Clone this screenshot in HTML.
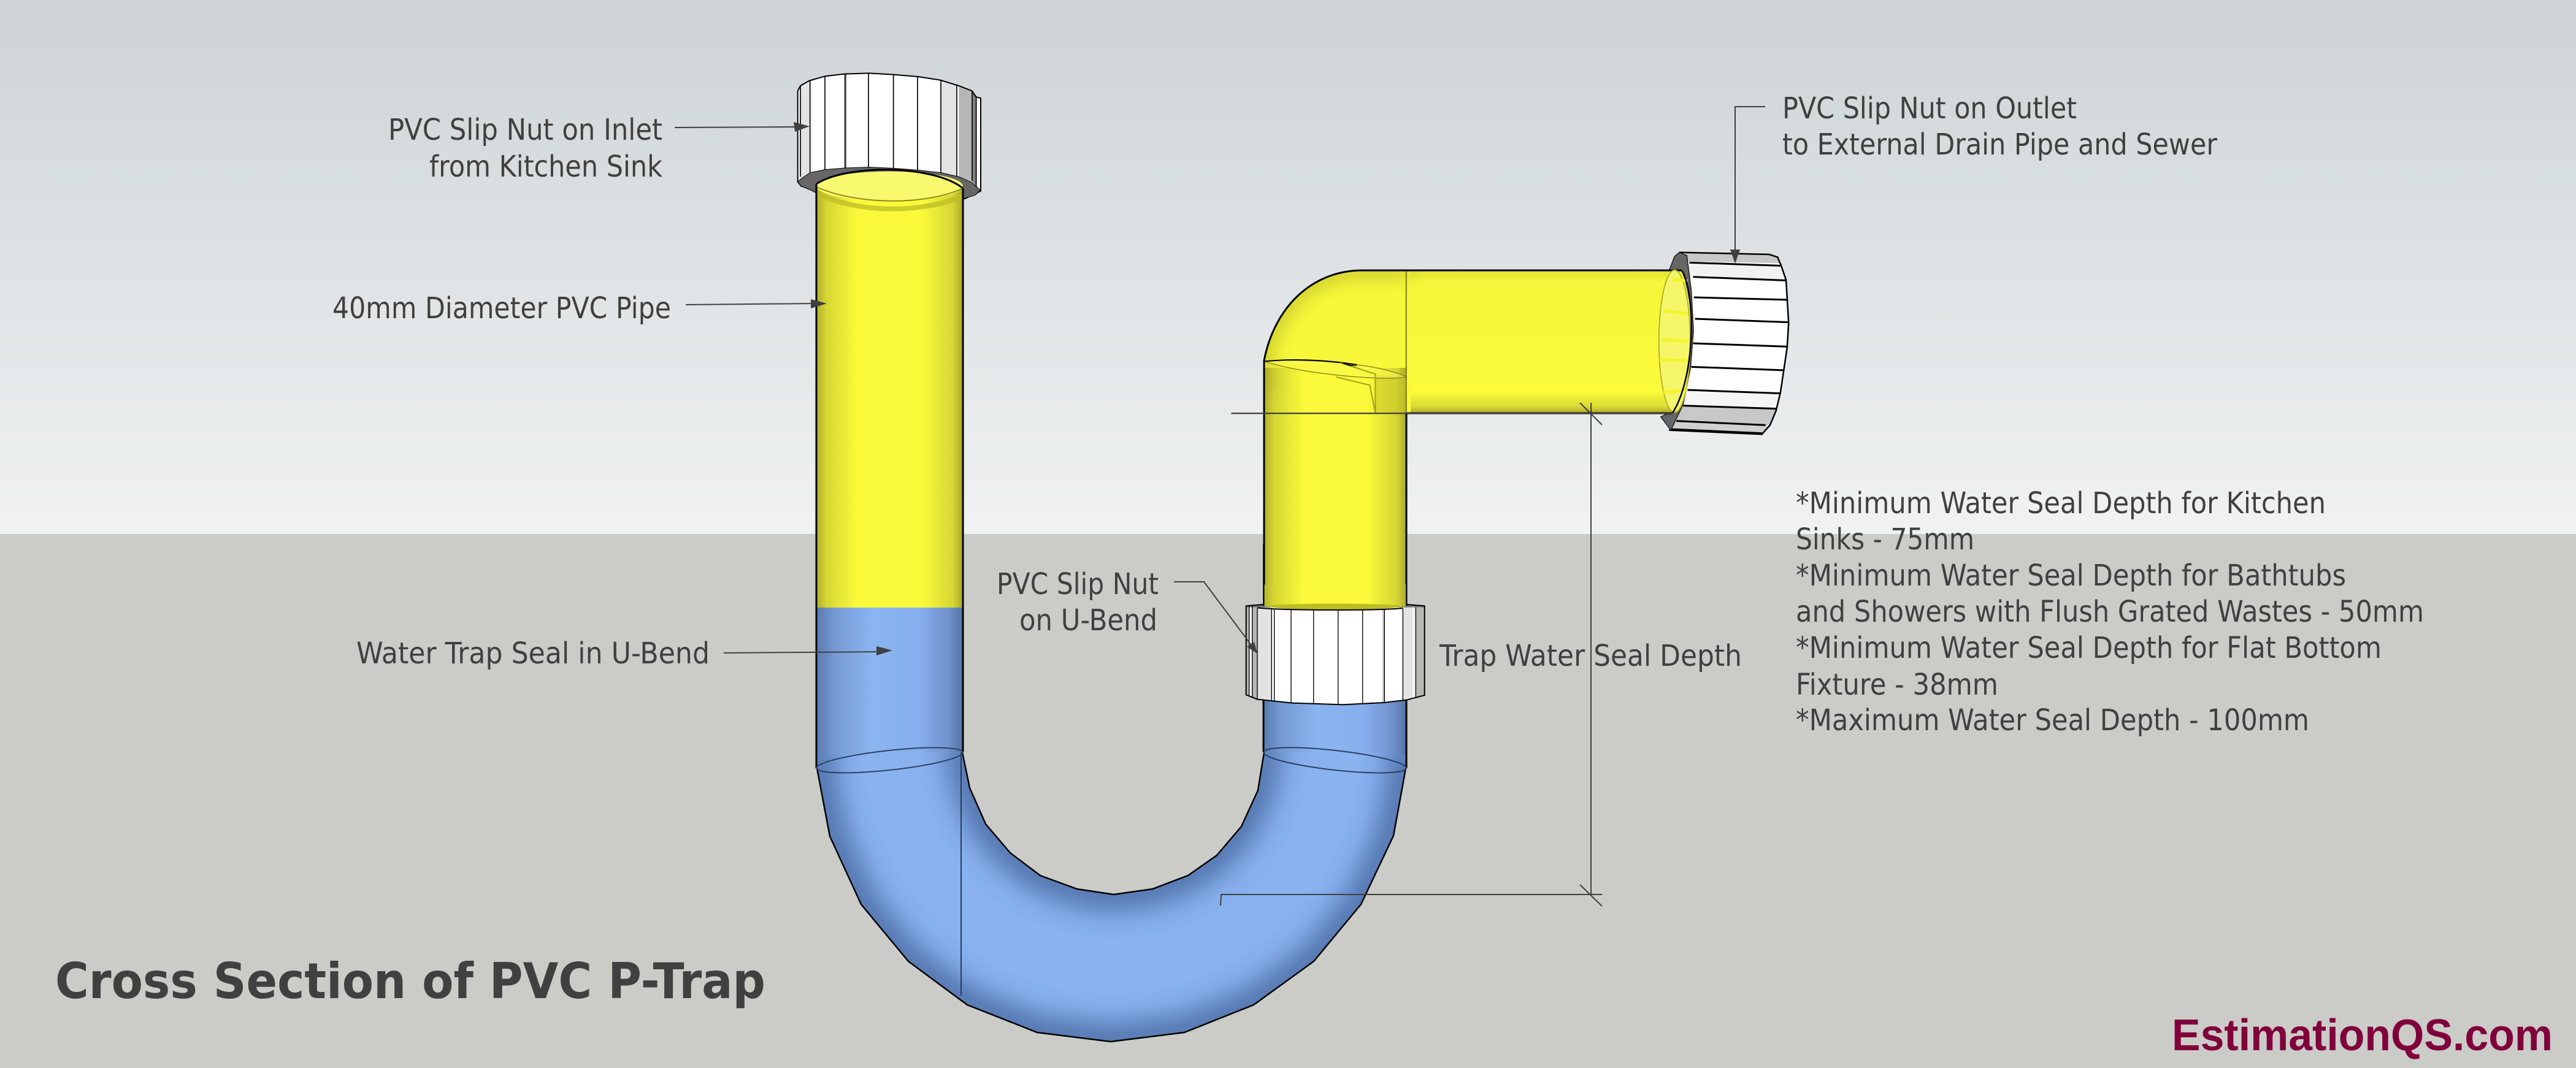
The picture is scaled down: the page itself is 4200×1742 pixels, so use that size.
<!DOCTYPE html>
<html><head><meta charset="utf-8"><style>
html,body{margin:0;padding:0;background:#cbccc7}
svg{display:block}
text{font-family:"DejaVu Sans","Liberation Sans",sans-serif;font-size:48px;fill:#404040}
</style></head><body>
<svg xmlns="http://www.w3.org/2000/svg" width="4200" height="1742" viewBox="0 0 4200 1742">
<defs>
<linearGradient id="sky" x1="0" y1="0" x2="0" y2="1"><stop offset="0" stop-color="#cdd3d6"/><stop offset="1" stop-color="#f0f2f3"/></linearGradient>
<linearGradient id="yel" x1="0" y1="0" x2="1" y2="0"><stop offset="0" stop-color="#b0b02c"/><stop offset=".07" stop-color="#d6d634"/><stop offset=".28" stop-color="#fafa3a"/><stop offset=".72" stop-color="#fafa3a"/><stop offset=".93" stop-color="#d6d634"/><stop offset="1" stop-color="#a8a82a"/></linearGradient>
<linearGradient id="blu" x1="0" y1="0" x2="1" y2="0"><stop offset="0" stop-color="#577aaf"/><stop offset=".12" stop-color="#7599d2"/><stop offset=".38" stop-color="#8ab5f0"/><stop offset=".7" stop-color="#87aeee"/><stop offset=".9" stop-color="#7292cc"/><stop offset="1" stop-color="#5474a6"/></linearGradient>
<linearGradient id="yh" x1="0" y1="0" x2="0" y2="1"><stop offset="0" stop-color="#e4e436"/><stop offset=".08" stop-color="#f6f63a"/><stop offset=".85" stop-color="#fbfb3a"/><stop offset=".95" stop-color="#dcdc34"/><stop offset="1" stop-color="#a8a82c"/></linearGradient>
<filter id="b" filterUnits="userSpaceOnUse" x="0" y="0" width="4200" height="1742"><feGaussianBlur stdDeviation="24"/></filter>
<filter id="c" filterUnits="userSpaceOnUse" x="0" y="0" width="4200" height="1742"><feGaussianBlur stdDeviation="14"/></filter>
<clipPath id="ub"><path d="M1332,1230L1332,1253L1353,1364L1404,1475L1481,1568L1577,1639L1691,1684L1811,1699L1931,1684L2044,1639L2142,1568L2219,1475L2272,1363L2292,1253L2292,1230L2061,1227L2051,1289L2024,1348L1984,1395L1937,1428L1879,1450L1816,1459L1756,1450L1696,1428L1647,1391L1607,1344L1581,1285L1569,1227Z"/></clipPath>
<clipPath id="n1"><path d="M302,205L315,180L358,155L435,133L530,122L650,118L770,125L890,135L1000,152L1090,180L1155,205L1175,235L1197,240L1197,695L1175,672L1155,645L1090,625L1002,605L888,592L770,583L650,578L533,582L435,590L362,605L315,625L302,650Z"/></clipPath>
<clipPath id="n3"><path d="M245,205L330,198L1030,198L1118,205L1118,642L1030,665L920,678L720,688L470,680L300,662L245,640Z"/></clipPath>
<clipPath id="n2"><path d="M1218,95L1460,105L1482,118L1492,160L1505,230L1512,440L1508,560L1490,780L1478,870L1462,940L1440,985L1190,965L1210,890L1240,700L1252,480L1245,250Z"/></clipPath>
<clipPath id="elb"><path d="M2061,1000V588C2078,500 2140,441 2221,441H2742C2766,520 2766,600 2727,674H2293V1000Z"/></clipPath>
</defs>

<rect width="4200" height="871" fill="url(#sky)"/>
<rect y="871" width="4200" height="871" fill="#cbccc7"/>

<!-- inlet nut -->
<g transform="translate(1200,80) scale(.33333)">
<g clip-path="url(#n1)">
<rect x="290" y="100" width="920" height="620" fill="#fff"/>
<rect x="315" y="100" width="47" height="620" fill="#e3e3e3"/>
<rect x="362" y="100" width="15" height="620" fill="#f4f4f4"/>
<rect x="1002" y="100" width="78" height="620" fill="#e3e3e3"/>
<rect x="1090" y="100" width="65" height="620" fill="#b6b6b4"/>
<rect x="1155" y="100" width="20" height="620" fill="#808080"/>
<rect x="533" y="100" width="8" height="620" fill="#999"/>
<g stroke="#000" stroke-width="5" fill="none">
<path d="M315,180V625M362,155V605M435,133V590M533,122V582M648,118V578M770,125V583M888,135V592M1002,152V605M1080,180V625M1155,205V645M1175,235V672"/>
</g>
</g>
<path d="M302,205L315,180L358,155L435,133L530,122L650,118L770,125L890,135L1000,152L1090,180L1155,205L1175,235L1197,240L1197,695L1120,732L400,700L318,670L302,650Z" fill="none" stroke="#000" stroke-width="6"/>
<path d="M302,650L318,670L365,690L395,705L1110,733L1170,715L1195,690L1150,650L1090,625L1002,605L888,592L770,583L650,578L533,582L435,590L362,605L325,630Z" fill="#666" stroke="#000" stroke-width="3"/>
</g>

<!-- outlet nut -->
<g transform="translate(2000,380) scale(.606,.33333)">
<g clip-path="url(#n2)">
<rect x="1160" y="80" width="380" height="920" fill="#fff"/>
<path d="M1200,80H1540V150L1200,138Z" fill="#c8c8c8"/>
<path d="M1200,150L1540,165V232L1200,210Z" fill="#f1f1f1"/>
<path d="M1200,770L1540,790V860L1200,845Z" fill="#f5f5f5"/>
<path d="M1200,845L1540,865V945L1200,925Z" fill="#c8c8c8"/>
<path d="M1200,925L1500,945V1000H1200Z" fill="#d0d0d0"/>
<path vector-effect="non-scaling-stroke" stroke="#000" stroke-width="3" fill="none" d="M1245,145L1490,160M1255,215L1505,232M1257,315L1510,327M1260,420L1512,437M1255,540L1510,556M1250,655L1503,672M1240,768L1490,785M1228,845L1478,860M1210,920L1450,940M1195,960L1440,980"/>
</g>
<path vector-effect="non-scaling-stroke" d="M1218,95L1460,105L1482,118L1492,160L1505,230L1512,440L1508,560L1490,780L1478,870L1462,940L1440,985L1190,965" fill="none" stroke="#000" stroke-width="2.5"/>
<path vector-effect="non-scaling-stroke" d="M1218,95L1238,110L1250,280L1256,480L1248,660L1228,840L1195,965L1168,900L1190,880L1225,700L1245,480L1230,260L1190,185L1205,115Z" fill="#666" stroke="#222" stroke-width="1.5"/>
</g>

<!-- right pipe yellow with elbow -->
<g clip-path="url(#elb)">
<rect x="2040" y="420" width="760" height="600" fill="#f8f83a"/>
<rect x="2300" y="441" width="470" height="233" fill="url(#yh)"/>
<rect x="2061" y="600" width="232" height="400" fill="url(#yel)"/>
<path d="M2061,640V588C2078,500 2140,441 2221,441H2300" fill="none" stroke="#a8a82a" stroke-width="20" opacity=".7" filter="url(#c)"/>
</g>
<path d="M2061,991V588C2078,500 2140,441 2221,441H2742M2293,991V674H2727" fill="none" stroke="#000" stroke-width="3"/>
<g transform="translate(2000,380) scale(.606,.33333)">
<path vector-effect="non-scaling-stroke" d="M400,690L483,705V882H400Z" fill="#c8c828" opacity=".55"/>
<ellipse cx="1205" cy="530" rx="42" ry="348" fill="#f6f66a" stroke="#b4b42c" stroke-width="2" vector-effect="non-scaling-stroke"/>
<path vector-effect="non-scaling-stroke" d="M1200,225L1240,235M1175,380L1240,395M1170,520L1240,530M1165,620L1240,625M1175,780L1235,770" stroke="#f4f428" stroke-width="5" fill="none"/>
<path vector-effect="non-scaling-stroke" d="M1225,185C1262,300 1262,700 1200,880" fill="none" stroke="#000" stroke-width="2.5"/>
<path vector-effect="non-scaling-stroke" d="M102,628C200,610 420,640 483,705C420,725 200,690 102,628Z" fill="#fafa50" fill-opacity=".5" stroke="#8c8c1e" stroke-width="1.5"/>
<path vector-effect="non-scaling-stroke" d="M102,628C200,610 300,630 350,645" fill="none" stroke="#000" stroke-width="2"/>
<path vector-effect="non-scaling-stroke" d="M305,635L400,690V880M295,705L385,745L400,880" fill="none" stroke="#a0a020" stroke-width="2"/>
<path vector-effect="non-scaling-stroke" d="M305,635L355,652L330,650Z" fill="#000"/>
<path vector-effect="non-scaling-stroke" d="M483,187V882" stroke="#7e7e18" stroke-width="2" fill="none"/>
<path vector-effect="non-scaling-stroke" d="M12,883H483" stroke="#555" stroke-width="2" fill="none"/>
</g>

<!-- left pipe -->
<rect x="1331" y="303" width="239" height="689" fill="url(#yel)"/>
<ellipse cx="1450.5" cy="303.5" rx="119.5" ry="24" fill="#f9f970"/>
<path d="M1331,310C1400,345 1500,345 1570,315V325C1500,352 1400,352 1331,320Z" fill="#bcbc26" opacity=".75"/>
<path d="M1331,300C1380,268 1520,268 1570,307" fill="none" stroke="#000" stroke-width="3"/>
<path d="M1331,305C1400,335 1510,335 1570,307" fill="none" stroke="#8c8c1e" stroke-width="2"/>
<path d="M1331,300V992M1570,307V992" stroke="#000" stroke-width="3" fill="none"/>

<!-- blue lower pipe and bend -->
<rect x="1331" y="991" width="239" height="262" fill="url(#blu)"/>
<rect x="2060" y="1100" width="233" height="153" fill="url(#blu)"/>
<g clip-path="url(#ub)">
<rect x="1320" y="1220" width="990" height="500" fill="#89b2ef"/>
<path d="M1332,1200V1253L1353,1364L1404,1475L1481,1568L1577,1639L1691,1684L1811,1699L1931,1684L2044,1639L2142,1568L2219,1475L2272,1363L2292,1253V1200M2061,1200V1227L2051,1289L2024,1348L1984,1395L1937,1428L1879,1450L1816,1459L1756,1450L1696,1428L1647,1391L1607,1344L1581,1285L1569,1227V1200" fill="none" stroke="#38568c" stroke-width="46" opacity=".85" filter="url(#b)"/>
</g>
<path d="M1332,1253L1353,1364L1404,1475L1481,1568L1577,1639L1691,1684L1811,1699L1931,1684L2044,1639L2142,1568L2219,1475L2272,1363L2292,1253M2061,1227L2051,1289L2024,1348L1984,1395L1937,1428L1879,1450L1816,1459L1756,1450L1696,1428L1647,1391L1607,1344L1581,1285L1569,1227" fill="none" stroke="#000" stroke-width="2.5"/>
<path d="M1331,991V1253M1570,991V1227M2060,1100V1227M2293,1100V1253" stroke="#000" stroke-width="3" fill="none"/>
<line x1="1567" y1="1227" x2="1567" y2="1624" stroke="#2a3a58" stroke-width="2"/>
<ellipse cx="1450.5" cy="1240" rx="120" ry="16" transform="rotate(-6.2 1450.5 1240)" fill="none" stroke="#2b4164" stroke-width="2"/>
<ellipse cx="2176.5" cy="1240" rx="117" ry="16" transform="rotate(6.4 2176.5 1240)" fill="none" stroke="#2b4164" stroke-width="2"/>

<!-- u-bend nut -->
<g transform="translate(1950,920) scale(.33333)">
<g clip-path="url(#n3)">
<rect x="240" y="190" width="890" height="510" fill="#fff"/>
<rect x="245" y="190" width="15" height="510" fill="#b6b6b4"/>
<rect x="275" y="190" width="25" height="510" fill="#b6b6b4"/>
<rect x="300" y="190" width="70" height="510" fill="#e3e3e3"/>
<rect x="912" y="190" width="10" height="510" fill="#c8c8c8"/>
<rect x="1012" y="190" width="48" height="510" fill="#e3e3e3"/>
<rect x="1060" y="190" width="15" height="510" fill="#f4f4f4"/>
<rect x="1075" y="190" width="43" height="510" fill="#b6b6b4"/>
<rect x="240" y="190" width="890" height="22" fill="#777"/>
<g stroke="#000" stroke-width="4" fill="none">
<path d="M260,205V650M275,205V655M300,215V662M370,220V668M383,222V672M465,225V680M575,225V684M695,225V688M815,225V682M922,222V678M1012,218V665M1075,212V658"/>
</g>
</g>
<path d="M245,205L330,198L1030,198L1118,205L1118,642L1030,665L920,678L720,688L470,680L300,662L245,640Z" fill="none" stroke="#000" stroke-width="6"/>
<path d="M331,100V205C450,232 900,232 1030,205V100Z" fill="url(#yel)"/>
<path d="M331,205C450,232 900,232 1030,205C900,190 450,190 331,205Z" fill="#bcbc26"/>
<path d="M300,214C450,228 900,228 1012,216" fill="none" stroke="#000" stroke-width="6"/>
<path d="M331,-100V205M1030,-100V205" stroke="#000" stroke-width="7" fill="none"/>
</g>

<!-- leaders -->
<g stroke="#404040" stroke-width="2" fill="none">
<path d="M1100,208L1300,207"/>
<path d="M1118,497L1330,495"/>
<path d="M1180,1065L1440,1063"/>
<path d="M1914,949H1963L2040,1052"/>
<path d="M2878,174H2829V415"/>
<path d="M2008,674H2727M2594,657V1460M2576,657L2612,693M1990,1477L1991,1459H2612M2576,1443L2612,1478"/>
</g>
<g fill="#404040">
<polygon points="1320,206 1294,199 1296,215"/>
<polygon points="1348,495 1322,488 1322,503"/>
<polygon points="1455,1061 1429,1054 1429,1069"/>
<polygon points="2033,1055 2045,1047 2050,1066"/>
<polygon points="2829,430 2821,407 2837,407"/>
</g>

<!-- labels -->
<text x="633" y="228" textLength="447" lengthAdjust="spacingAndGlyphs">PVC Slip Nut on Inlet</text>
<text x="700" y="288" textLength="380" lengthAdjust="spacingAndGlyphs">from Kitchen Sink</text>
<text x="542" y="519" textLength="552" lengthAdjust="spacingAndGlyphs">40mm Diameter PVC Pipe</text>
<text x="581" y="1082" textLength="576" lengthAdjust="spacingAndGlyphs">Water Trap Seal in U-Bend</text>
<text x="1625" y="969" textLength="264" lengthAdjust="spacingAndGlyphs">PVC Slip Nut</text>
<text x="1662" y="1028" textLength="225" lengthAdjust="spacingAndGlyphs">on U-Bend</text>
<text x="2347" y="1086" textLength="493" lengthAdjust="spacingAndGlyphs">Trap Water Seal Depth</text>
<text x="2906" y="193" textLength="480" lengthAdjust="spacingAndGlyphs">PVC Slip Nut on Outlet</text>
<text x="2906" y="252" textLength="709" lengthAdjust="spacingAndGlyphs">to External Drain Pipe and Sewer</text>
<text x="2928" y="837" textLength="864" lengthAdjust="spacingAndGlyphs">*Minimum Water Seal Depth for Kitchen</text>
<text x="2928" y="896" textLength="291" lengthAdjust="spacingAndGlyphs">Sinks - 75mm</text>
<text x="2928" y="955" textLength="897" lengthAdjust="spacingAndGlyphs">*Minimum Water Seal Depth for Bathtubs</text>
<text x="2928" y="1014" textLength="1024" lengthAdjust="spacingAndGlyphs">and Showers with Flush Grated Wastes - 50mm</text>
<text x="2928" y="1073" textLength="955" lengthAdjust="spacingAndGlyphs">*Minimum Water Seal Depth for Flat Bottom</text>
<text x="2928" y="1133" textLength="330" lengthAdjust="spacingAndGlyphs">Fixture - 38mm</text>
<text x="2928" y="1191" textLength="837" lengthAdjust="spacingAndGlyphs">*Maximum Water Seal Depth - 100mm</text>
<text x="90" y="1628" textLength="1158" lengthAdjust="spacingAndGlyphs" style="font-size:80px;font-weight:bold">Cross Section of PVC P-Trap</text>
<text x="3541" y="1713" textLength="621" lengthAdjust="spacingAndGlyphs" style="font-family:'Liberation Sans',sans-serif;font-size:72px;font-weight:bold;fill:#80003c">EstimationQS.com</text>
</svg>
</body></html>
